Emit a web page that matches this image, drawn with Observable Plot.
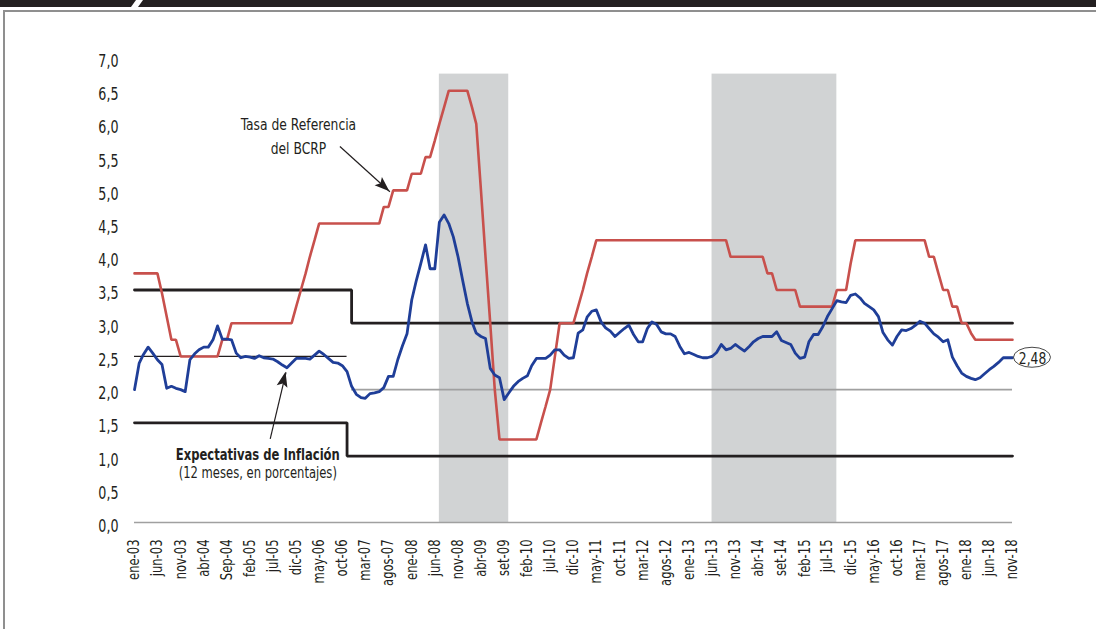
<!DOCTYPE html>
<html lang="es">
<head>
<meta charset="utf-8">
<title>Tasa de Referencia del BCRP y Expectativas de Inflación</title>
<script src="https://cdn.jsdelivr.net/npm/d3@7"></script>
<script src="https://cdn.jsdelivr.net/npm/@observablehq/plot@0.6"></script>
<style>
  body { margin: 0; background: #fff; }
  #wrap { position: relative; width: 1096px; height: 629px; overflow: hidden; }
  #chart { position: absolute; left: 0; top: 0; }
  .bar { position: absolute; top: 0; height: 7px; background: #231f20; }
  #barL { left: 0; width: 137px; clip-path: polygon(0 0, calc(100% - 1px) 0, calc(100% - 6px) 100%, 0 100%); }
  #barR { left: 137px; width: 959px; clip-path: polygon(6px 0, 100% 0, 100% 100%, 1px 100%); }
  #box { position: absolute; left: 3px; top: 10px; width: 1110px; height: 640px; border: 2px solid #8f8f8f; box-sizing: border-box; }
</style>
</head>
<body>
<div id="wrap">
  <div id="chart"></div>
  <div class="bar" id="barL"></div>
  <div class="bar" id="barR"></div>
  <div id="box"></div>
</div>
<script>
// Monthly series, January 2003 to November 2018 (one value per month)
const inicioSerie = {anio: 2003, mes: 0};

// Tasa de referencia del BCRP (%)
const tasaReferencia = [
  3.75, 3.75, 3.75, 3.75, 3.75, 3.75, 3.45, 3.1, 2.75, 2.75, 2.5, 2.5,      // 2003
  2.5, 2.5, 2.5, 2.5, 2.5, 2.5, 2.5, 2.75, 2.75, 3.0, 3.0, 3.0,             // 2004
  3.0, 3.0, 3.0, 3.0, 3.0, 3.0, 3.0, 3.0, 3.0, 3.0, 3.0, 3.25,              // 2005
  3.5, 3.75, 4.0, 4.25, 4.5, 4.5, 4.5, 4.5, 4.5, 4.5, 4.5, 4.5,             // 2006
  4.5, 4.5, 4.5, 4.5, 4.5, 4.5, 4.75, 4.75, 5.0, 5.0, 5.0, 5.0,             // 2007
  5.25, 5.25, 5.25, 5.5, 5.5, 5.75, 6.0, 6.25, 6.5, 6.5, 6.5, 6.5,          // 2008
  6.5, 6.25, 6.0, 5.0, 4.0, 3.0, 2.0, 1.25, 1.25, 1.25, 1.25, 1.25,         // 2009
  1.25, 1.25, 1.25, 1.25, 1.5, 1.75, 2.0, 2.5, 3.0, 3.0, 3.0, 3.0,          // 2010
  3.25, 3.5, 3.75, 4.0, 4.25, 4.25, 4.25, 4.25, 4.25, 4.25, 4.25, 4.25,     // 2011
  4.25, 4.25, 4.25, 4.25, 4.25, 4.25, 4.25, 4.25, 4.25, 4.25, 4.25, 4.25,   // 2012
  4.25, 4.25, 4.25, 4.25, 4.25, 4.25, 4.25, 4.25, 4.25, 4.0, 4.0, 4.0,      // 2013
  4.0, 4.0, 4.0, 4.0, 4.0, 3.75, 3.75, 3.5, 3.5, 3.5, 3.5, 3.5,             // 2014
  3.25, 3.25, 3.25, 3.25, 3.25, 3.25, 3.25, 3.25, 3.5, 3.5, 3.5, 3.9,       // 2015
  4.25, 4.25, 4.25, 4.25, 4.25, 4.25, 4.25, 4.25, 4.25, 4.25, 4.25, 4.25,   // 2016
  4.25, 4.25, 4.25, 4.25, 4.0, 4.0, 3.75, 3.5, 3.5, 3.25, 3.25, 3.0,        // 2017
  3.0, 2.85, 2.75, 2.75, 2.75, 2.75, 2.75, 2.75, 2.75, 2.75, 2.75           // 2018
];

// Expectativas de inflación a 12 meses (%)
const expectativas = [
  2.0, 2.4, 2.53, 2.64, 2.55, 2.45, 2.38, 2.02, 2.05, 2.02, 2.0, 1.97,      // 2003
  2.45, 2.54, 2.6, 2.64, 2.64, 2.75, 2.96, 2.76, 2.76, 2.75, 2.55, 2.48,    // 2004
  2.5, 2.49, 2.47, 2.51, 2.48, 2.47, 2.46, 2.42, 2.37, 2.33, 2.4, 2.47,     // 2005
  2.47, 2.47, 2.46, 2.52, 2.58, 2.53, 2.47, 2.41, 2.4, 2.36, 2.27, 2.05,    // 2006
  1.93, 1.88, 1.87, 1.94, 1.95, 1.97, 2.03, 2.2, 2.2, 2.45, 2.66, 2.84,     // 2007
  3.35, 3.65, 3.9, 4.18, 3.82, 3.82, 4.52, 4.63, 4.5, 4.3, 4.0, 3.65,       // 2008
  3.3, 3.02, 2.85, 2.8, 2.77, 2.32, 2.22, 2.18, 1.85, 1.95, 2.05, 2.12,     // 2009
  2.17, 2.21, 2.36, 2.47, 2.47, 2.47, 2.52, 2.6, 2.6, 2.52, 2.47, 2.48,     // 2010
  2.85, 2.9, 3.09, 3.18, 3.2, 3.02, 2.93, 2.88, 2.8, 2.86, 2.92, 2.97,      // 2011
  2.83, 2.72, 2.72, 2.92, 3.02, 2.98, 2.87, 2.84, 2.84, 2.8, 2.65, 2.54,    // 2012
  2.56, 2.53, 2.5, 2.48, 2.48, 2.5, 2.56, 2.68, 2.6, 2.62, 2.68, 2.63,      // 2013
  2.58, 2.65, 2.72, 2.77, 2.8, 2.8, 2.8, 2.87, 2.74, 2.71, 2.68, 2.55,      // 2014
  2.47, 2.49, 2.72, 2.83, 2.83, 2.95, 3.1, 3.22, 3.34, 3.32, 3.31, 3.42,    // 2015
  3.44, 3.38, 3.3, 3.25, 3.2, 3.1, 2.86, 2.75, 2.67, 2.8, 2.9, 2.89,        // 2016
  2.92, 2.97, 3.03, 3.0, 2.92, 2.84, 2.79, 2.72, 2.75, 2.49, 2.36, 2.25,    // 2017
  2.2, 2.17, 2.15, 2.18, 2.24, 2.3, 2.35, 2.41, 2.48, 2.48, 2.48            // 2018
];

// Inflation target range: upper and lower limits, and centre line
const cambioMeta = ["2003-01-01", "2006-12-01", "2018-11-01"];
const limiteSuperior = [3.5, 3.0, 3.0];
const cambioMetaInf = ["2003-01-01", "2006-11-01", "2018-11-01"];
const limiteInferior = [1.5, 1.0, 1.0];
const centroAntes = {desde: "2003-01-01", hasta: "2006-11-01", valor: 2.5};
const centroDespues = {desde: "2006-12-01", hasta: "2018-11-01", valor: 2.0};

// Shaded periods
const periodoInicio = ["2008-07-01", "2013-06-01"];
const periodoFin = ["2009-10-01", "2015-09-01"];
const periodoTope = 6.75;

// Axis ticks
const yTicks = [0, 0.5, 1, 1.5, 2, 2.5, 3, 3.5, 4, 4.5, 5, 5.5, 6, 6.5, 7];
const xTickLabels = [
  "ene-03", "jun-03", "nov-03", "abr-04", "Sep-04", "feb-05", "jul-05", "dic-05",
  "may-06", "oct-06", "mar-07", "agos-07", "ene-08", "jun-08", "nov-08", "abr-09",
  "set-09", "feb-10", "jul-10", "dic-10", "may-11", "oct-11", "mar-12", "agos-12",
  "ene-13", "jun-13", "nov-13", "abr-14", "set-14", "feb-15", "jul-15", "dic-15",
  "may-16", "oct-16", "mar-17", "agos-17", "ene-18", "jun-18", "nov-18"
];
const mesesEntreTicks = 5;

// Annotations (date, value)
const notaTasa = {fecha: "2005-12-16", valor: 5.84, texto: "Tasa de Referencia\ndel BCRP"};
const flechaTasa = {desde: ["2006-09-15", 5.66], hasta: ["2007-08-10", 4.98]};
const notaExpTitulo = {fecha: "2005-03-23", valor: 1.02, texto: "Expectativas de Inflación"};
const notaExpSub = {fecha: "2005-03-23", valor: 0.74, texto: "(12 meses, en porcentajes)"};
const flechaExp = {desde: ["2005-06-13", 1.26], hasta: ["2005-09-25", 2.26]};

// ---------------------------------------------------------------
const parse = d3.utcParse("%Y-%m-%d");
const mes = i => new Date(Date.UTC(inicioSerie.anio, inicioSerie.mes + i, 1));
const serie = vals => vals.map((v, i) => ({fecha: mes(i), valor: v}));
const datosTasa = serie(tasaReferencia);
const datosExp = serie(expectativas);
const ultimo = datosExp[datosExp.length - 1];

const limSup = cambioMeta.map((f, i) => ({fecha: parse(f), valor: limiteSuperior[i]}));
const limInf = cambioMetaInf.map((f, i) => ({fecha: parse(f), valor: limiteInferior[i]}));
const centros = [centroAntes, centroDespues].map(c => ({x1: parse(c.desde), x2: parse(c.hasta), y: c.valor}));
const periodos = periodoInicio.map((f, i) => ({x1: parse(f), x2: parse(periodoFin[i])}));

const tickFechas = xTickLabels.map((_, i) => mes(i * mesesEntreTicks));
const etiquetaPorFecha = new Map(tickFechas.map((d, i) => [+d, xTickLabels[i]]));
const coma = (d, n = 1) => d.toFixed(n).replace(".", ",");

const flechas = [flechaTasa, flechaExp].map(f => ({
  x1: parse(f.desde[0]), y1: f.desde[1], x2: parse(f.hasta[0]), y2: f.hasta[1]
}));

const fuente = "'DejaVu Sans Condensed', 'DejaVu Sans', sans-serif";
const negro = "#231f20";

const plot = Plot.plot({
  width: 1096,
  height: 629,
  marginLeft: 134,
  marginRight: 84,
  marginTop: 57,
  marginBottom: 107,
  style: {fontFamily: fuente, fontSize: "16px", color: negro, background: "transparent", overflow: "visible"},
  x: {type: "utc", domain: [mes(0), mes(tasaReferencia.length - 1)]},
  y: {domain: [0, 7]},
  marks: [
    Plot.rect(periodos, {x1: "x1", x2: "x2", y1: 0, y2: periodoTope, fill: "#d1d3d4"}),
    Plot.ruleY(centros.slice(0, 1), {x1: "x1", x2: "x2", y: "y", stroke: negro, strokeWidth: 1.3}),
    Plot.ruleY(centros.slice(1), {x1: "x1", x2: "x2", y: "y", stroke: "#a0a0a0", strokeWidth: 1.6}),
    Plot.ruleY([0], {stroke: "#a0a0a0", strokeWidth: 1.6}),
    Plot.line(limSup, {x: "fecha", y: "valor", curve: "step-after", stroke: negro, strokeWidth: 2.8, strokeLinejoin: "miter"}),
    Plot.line(limInf, {x: "fecha", y: "valor", curve: "step-after", stroke: negro, strokeWidth: 2.8, strokeLinejoin: "miter"}),
    Plot.line(datosTasa, {x: "fecha", y: "valor", stroke: "#c8504c", strokeWidth: 2.6, strokeLinejoin: "miter"}),
    Plot.line(datosExp, {x: "fecha", y: "valor", stroke: "#1f3e98", strokeWidth: 2.8}),
    Plot.link(flechas, {x1: "x1", y1: "y1", x2: "x2", y2: "y2", stroke: negro, strokeWidth: 1.2}),
    Plot.text([notaTasa], {x: d => parse(d.fecha), y: "valor", text: "texto", fontSize: 16.5, lineHeight: 1.42, textAnchor: "middle", fill: negro}),
    Plot.text([notaExpTitulo], {x: d => parse(d.fecha), y: "valor", text: "texto", fontSize: 15.5, fontWeight: "bold", textAnchor: "middle", fill: negro}),
    Plot.text([notaExpSub], {x: d => parse(d.fecha), y: "valor", text: "texto", fontSize: 15.5, textAnchor: "middle", fill: negro}),
    Plot.text([ultimo], {x: "fecha", y: "valor", text: d => coma(d.valor, 2), dx: 20, dy: 1, fontSize: 16.5, textAnchor: "middle", fill: negro}),
    Plot.axisY({ticks: yTicks, tickFormat: d => coma(d), tickSize: 0, tickPadding: 16, dy: 4, fontSize: 17, label: null}),
    Plot.axisX({ticks: tickFechas, tickFormat: d => etiquetaPorFecha.get(+d), tickRotate: -90, textAnchor: "end", tickSize: 0, tickPadding: 17, fontSize: 15.5, label: null})
  ]
});

document.getElementById("chart").appendChild(plot);

// Narrow the lettering along its baseline to get a condensed face
d3.select(plot).selectAll("text").each(function () {
  const bold = (this.getAttribute("font-weight") || "") === "bold";
  const k = bold ? 0.77 : 0.83;
  const parts = this.querySelectorAll("tspan");
  for (const el of parts.length ? parts : [this]) {
    const w = el.getComputedTextLength();
    if (w > 0) {
      el.setAttribute("textLength", (w * k).toFixed(2));
      el.setAttribute("lengthAdjust", "spacingAndGlyphs");
    }
  }
});

// Arrowheads and the outline around the end value, placed with the plot's scales
const sx = plot.scale("x"), sy = plot.scale("y");
const svg = d3.select(plot);
for (const f of flechas) {
  const ax = sx.apply(f.x1), ay = sy.apply(f.y1);
  const bx = sx.apply(f.x2), by = sy.apply(f.y2);
  const len = Math.hypot(bx - ax, by - ay);
  const ux = (bx - ax) / len, uy = (by - ay) / len;
  const largo = 15, ancho = 5.5, muesca = 3;
  const baseX = bx - ux * largo, baseY = by - uy * largo;
  const pts = [
    [bx, by],
    [baseX - uy * ancho, baseY + ux * ancho],
    [bx - ux * (largo - muesca), by - uy * (largo - muesca)],
    [baseX + uy * ancho, baseY - ux * ancho]
  ];
  svg.append("polygon").attr("points", pts.map(p => p.join(",")).join(" ")).attr("fill", negro);
}
svg.append("ellipse")
  .attr("cx", sx.apply(ultimo.fecha) + 20)
  .attr("cy", sy.apply(ultimo.valor))
  .attr("rx", 18.5).attr("ry", 10)
  .attr("fill", "none").attr("stroke", "#4a4a4a").attr("stroke-width", 1);
</script>
</body>
</html>
